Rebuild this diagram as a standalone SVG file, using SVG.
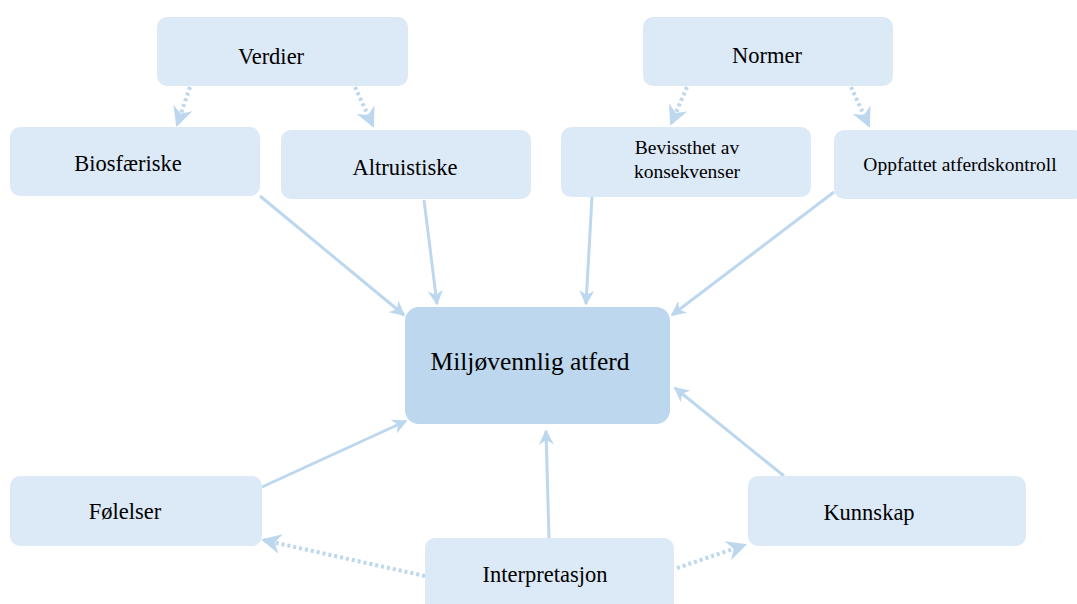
<svg xmlns="http://www.w3.org/2000/svg" width="1077" height="604" viewBox="0 0 1077 604">
<style>
.n{fill:#dce9f6;}
.c{fill:#bdd7ee;}
.t{font-family:"Liberation Serif","Times New Roman",serif;fill:#000;text-anchor:middle;font-size:22.5px;}
.t2{font-size:19.5px;}
.t3{font-size:25.5px;}
.s{stroke:#bdd7ee;stroke-width:3;fill:none;marker-end:url(#a);}
.d{stroke:#bdd7ee;stroke-width:4;fill:none;stroke-dasharray:3,3;marker-end:url(#a);}
</style>
<defs>
<marker id="a" viewBox="0 0 10 10" refX="9" refY="5" markerWidth="5" markerHeight="5" markerUnits="strokeWidth" orient="auto">
<path d="M0,0 L10,5 L0,10 L3,5 Z" fill="#bdd7ee"/>
</marker>
</defs>
<rect width="1077" height="604" fill="#fff"/>
<g id="connectors">
<line class="d" x1="190" y1="87" x2="177" y2="125"/>
<line class="d" x1="355" y1="87" x2="373" y2="126"/>
<line class="d" x1="687" y1="87" x2="671" y2="124"/>
<line class="d" x1="851" y1="87" x2="869" y2="126"/>
<line class="s" x1="260" y1="196" x2="404" y2="315"/>
<line class="s" x1="424" y1="200" x2="437" y2="304"/>
<line class="s" x1="592" y1="197" x2="586" y2="304"/>
<line class="s" x1="834" y1="192" x2="672" y2="315"/>
<line class="s" x1="262" y1="487" x2="406" y2="421"/>
<line class="s" x1="549" y1="538" x2="546" y2="431"/>
<line class="s" x1="784" y1="476" x2="675" y2="388"/>
<line class="d" x1="425" y1="576" x2="263" y2="540"/>
<line class="d" x1="677" y1="568" x2="745" y2="545"/>
</g>
<g id="verdier"><rect class="n" x="157" y="17" width="251" height="69" rx="10"/><text class="t" x="271" y="64">Verdier</text></g>
<g id="normer"><rect class="n" x="643" y="17" width="250" height="69" rx="10"/><text class="t" x="767" y="63">Normer</text></g>
<g id="biosfaeriske"><rect class="n" x="10" y="127" width="250" height="69" rx="10"/><text class="t" x="128" y="171">Biosfæriske</text></g>
<g id="altruistiske"><rect class="n" x="281" y="130" width="250" height="69" rx="10"/><text class="t" x="405" y="175">Altruistiske</text></g>
<g id="bevissthet"><rect class="n" x="561" y="127" width="250" height="70" rx="10"/><text class="t t2" x="687" y="154">Bevissthet av</text><text class="t t2" x="687" y="178">konsekvenser</text></g>
<g id="oppfattet"><rect class="n" x="834" y="130" width="250" height="69" rx="10"/><text class="t t2" x="960" y="171">Oppfattet atferdskontroll</text></g>
<g id="miljo"><rect class="c" x="405" y="307" width="265" height="117" rx="14"/><text class="t t3" x="530" y="370">Miljøvennlig atferd</text></g>
<g id="folelser"><rect class="n" x="10" y="476" width="252" height="70" rx="10"/><text class="t" x="125" y="519">Følelser</text></g>
<g id="kunnskap"><rect class="n" x="748" y="476" width="278" height="70" rx="10"/><text class="t" x="869" y="520">Kunnskap</text></g>
<g id="interpretasjon"><rect class="n" x="425" y="538" width="249" height="75" rx="10"/><text class="t" x="545" y="582">Interpretasjon</text></g>
</svg>
